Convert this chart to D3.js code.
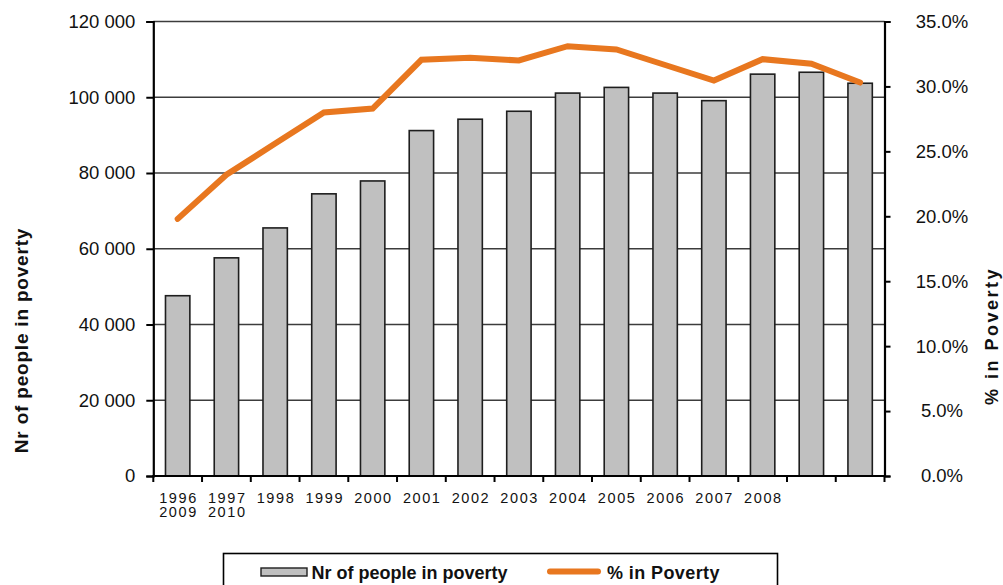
<!DOCTYPE html>
<html>
<head>
<meta charset="utf-8">
<script src="https://cdn.jsdelivr.net/npm/d3@7"></script>
<style>
  html, body { margin: 0; padding: 0; background: #fff; }
  svg { display: block; font-family: "Liberation Sans", Arial, sans-serif; }
</style>
</head>
<body>
<svg id="chart" width="1003" height="585"></svg>
<script>
// Years shown as bars / line points
const years = ["1996","1997","1998","1999","2000","2001","2002","2003",
               "2004","2005","2006","2007","2008","2009","2010"];
// Number of people in poverty
const peopleInPoverty = [47600, 57600, 65500, 74500, 77900, 91200, 94200, 96300,
                         101100, 102600, 101100, 99100, 106100, 106600, 103700];
// Share of population in poverty (%)
const pctInPoverty = [19.8, 23.2, 25.6, 28.0, 28.3, 32.05, 32.2, 32.0,
                      33.1, 32.85, 31.65, 30.45, 32.1, 31.75, 30.3];
// Category tick labels (multi-line)
const xTickLabels = [["1996","2009"],["1997","2010"],["1998"],["1999"],["2000"],
                     ["2001"],["2002"],["2003"],["2004"],["2005"],["2006"],
                     ["2007"],["2008"],[],[]];
const leftTicks = [0, 20000, 40000, 60000, 80000, 100000, 120000];
const rightTicks = [0, 5, 10, 15, 20, 25, 30, 35];

const svg = d3.select("#chart");
const L = 153.3, R = 884.5, T = 21.5, B = 476;
const orange = "#E8771F";

const x = d3.scaleBand().domain(years).range([L, R])
  .paddingInner(0.5).paddingOuter(0.25);
const yL = d3.scaleLinear().domain([0, 120000]).range([B, T]);
const yR = d3.scaleLinear().domain([0, 35]).range([B, T]);

// Horizontal gridlines
svg.append("g").selectAll("line").data(leftTicks.filter(d => d > 0)).join("line")
  .attr("x1", L).attr("x2", R)
  .attr("y1", d => yL(d)).attr("y2", d => yL(d))
  .attr("stroke", "#3c3c3c").attr("stroke-width", 1.4);

// Bars
svg.append("g").selectAll("rect").data(years).join("rect")
  .attr("x", d => x(d))
  .attr("width", x.bandwidth())
  .attr("y", (d, i) => yL(peopleInPoverty[i]))
  .attr("height", (d, i) => B - yL(peopleInPoverty[i]))
  .attr("fill", "#C0C0C0")
  .attr("stroke", "#1e1e1e").attr("stroke-width", 1.6);

// Left axis
const fmtSpace = d => d3.format(",")(d).replace(/,/g, " ");
const gL = svg.append("g").attr("transform", `translate(${L},0)`)
  .call(d3.axisLeft(yL).tickValues(leftTicks).tickFormat(fmtSpace)
    .tickSize(7).tickPadding(11));
gL.select(".domain").attr("stroke", "#000").attr("stroke-width", 2.2);
gL.selectAll(".tick line").attr("stroke", "#000").attr("stroke-width", 2);
gL.selectAll(".tick text").attr("font-size", 18.5).attr("fill", "#111")
  .attr("font-family", "Liberation Sans, Arial, sans-serif");

// Right axis
const gR = svg.append("g").attr("transform", `translate(${R},0)`)
  .call(d3.axisRight(yR).tickValues(rightTicks).tickFormat(d => d3.format(".1f")(d) + "%")
    .tickSize(6).tickPadding(0));
gR.select(".domain").attr("stroke", "#000").attr("stroke-width", 2.2);
gR.selectAll(".tick line").attr("stroke", "#000").attr("stroke-width", 2);
gR.selectAll(".tick text").attr("font-size", 18.5).attr("fill", "#111")
  .attr("font-family", "Liberation Sans, Arial, sans-serif")
  .attr("text-anchor", "middle").attr("x", 942 - R);

// Bottom axis: baseline and category boundary ticks
const step = x.step();
const boundaries = d3.range(years.length + 1).map(i => L + i * step);
svg.append("line").attr("x1", L - 1).attr("x2", R + 1)
  .attr("y1", B).attr("y2", B).attr("stroke", "#000").attr("stroke-width", 2.2);
svg.append("g").selectAll("line").data(boundaries).join("line")
  .attr("x1", d => d).attr("x2", d => d)
  .attr("y1", B).attr("y2", B + 6)
  .attr("stroke", "#000").attr("stroke-width", 2);

// Category labels
const lbl = svg.append("g").selectAll("text").data(years).join("text")
  .attr("text-anchor", "middle")
  .attr("font-size", 14.5).attr("letter-spacing", 1.6).attr("fill", "#111")
  .attr("transform", d => `translate(${x(d) + x.bandwidth() / 2 + 0.8},503)`);
lbl.selectAll("tspan").data((d, i) => xTickLabels[i]).join("tspan")
  .attr("x", 0).attr("y", (d, j) => j * 14)
  .text(d => d);

// Percentage line
const line = d3.line()
  .x((d, i) => x(years[i]) + x.bandwidth() / 2)
  .y(d => yR(d));
svg.append("path").datum(pctInPoverty)
  .attr("d", line)
  .attr("fill", "none").attr("stroke", orange)
  .attr("stroke-width", 6).attr("stroke-linecap", "round")
  .attr("stroke-linejoin", "miter");

// Axis titles
svg.append("text")
  .attr("transform", "translate(28,340.5) rotate(-90)")
  .attr("text-anchor", "middle").attr("font-weight", "bold")
  .attr("font-size", 19).attr("letter-spacing", 0.8).attr("fill", "#111")
  .text("Nr of people in poverty");
svg.append("text")
  .attr("transform", "translate(998,336) rotate(-90)")
  .attr("text-anchor", "middle").attr("font-weight", "bold")
  .attr("font-size", 18).attr("letter-spacing", 2.5).attr("fill", "#111")
  .text("% in Poverty");

// Legend
const lg = svg.append("g");
lg.append("rect").attr("x", 223.5).attr("y", 553.5).attr("width", 554).attr("height", 40)
  .attr("fill", "#fff").attr("stroke", "#000").attr("stroke-width", 1.6);
lg.append("rect").attr("x", 261).attr("y", 568).attr("width", 46).attr("height", 8)
  .attr("fill", "#C0C0C0").attr("stroke", "#1e1e1e").attr("stroke-width", 1.4);
lg.append("text").attr("x", 311.5).attr("y", 578.5)
  .attr("font-weight", "bold").attr("font-size", 18).attr("fill", "#111")
  .text("Nr of people in poverty");
lg.append("line").attr("x1", 550).attr("x2", 598).attr("y1", 571.5).attr("y2", 571.5)
  .attr("stroke", orange).attr("stroke-width", 6).attr("stroke-linecap", "round");
lg.append("text").attr("x", 607).attr("y", 578.5)
  .attr("font-weight", "bold").attr("font-size", 18).attr("letter-spacing", 0.4).attr("fill", "#111")
  .text("% in Poverty");
</script>
</body>
</html>
